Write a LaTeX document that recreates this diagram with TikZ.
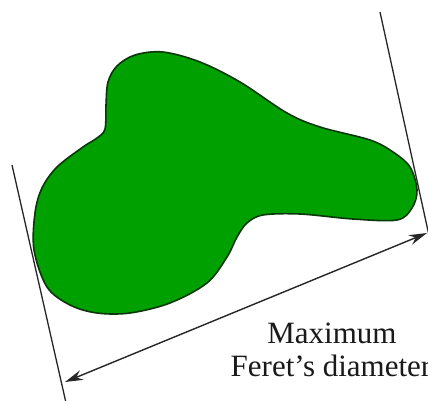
\documentclass[tikz,border=0pt]{standalone}
\usepackage{fontspec}
\setmainfont{Liberation Serif}
\usetikzlibrary{arrows.meta}
\definecolor{blobfill}{RGB}{0,160,0}
\definecolor{blobedge}{RGB}{10,55,10}
\tikzset{
  tangent/.style={draw=black!85, line width=1.3pt},
  dimarrow/.style={draw=black!85, line width=1.4pt, {Stealth[length=18pt,width=10pt]}-{Stealth[length=18pt,width=10pt]}},
  blob/.style={fill=blobfill, draw=blobedge, line width=1.6pt},
  lbl/.style={font=\fontsize{31}{34}\selectfont, align=center, inner sep=0pt, text=black!90}
}
\begin{document}
\begin{tikzpicture}[x=1pt,y=-1pt]
\useasboundingbox (0,0) rectangle (428,401);
\clip (0,0) rectangle (428,401);
\fill[white] (0,0) rectangle (428,401);
% blob
\path[blob] plot[smooth cycle, tension=0.55] coordinates {
 (163,52) (200,62) (240,82) (287,113) (320,127) (370,140) (393,152) (410,167)
 (417,190) (412,208) (397,220) (353,219) (300,214) (263,215) (247,223)
 (237,237) (227,257) (207,283) (170,303) (130,313) (97,313) (70,305)
 (47,287) (34,250) (35,213) (42,188) (57,167) (83,147) (97,138) (105,129)
 (106,105) (108,82) (117,66) (135,55)};
% tangent lines
\coordinate (l1) at (12,165);
\coordinate (l2) at (66.5,405);
\coordinate (r1) at (380,12);
\coordinate (r2) at (430,240);
\draw[tangent] (l1) -- (l2);
\draw[tangent] (r1) -- (r2);
% arrow
\coordinate (a1) at (65,382);
\coordinate (a2) at (427,233);
\draw[dimarrow] (a1) -- (a2);
% label
\node[lbl, anchor=base] (t1) at (332,343) {Maximum};
\node[lbl, anchor=base] (t2) at (331,376) {Feret’s diameter};
\end{tikzpicture}
\end{document}
